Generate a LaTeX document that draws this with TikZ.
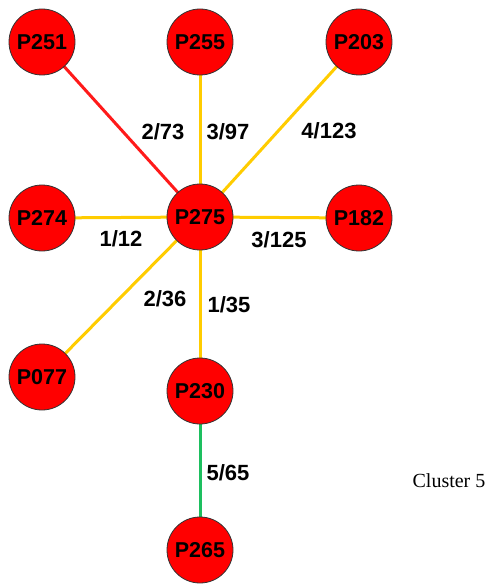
\documentclass[tikz,border=0pt]{standalone}
\usepackage{fontspec}
\setmainfont{Liberation Sans}
\newfontfamily\serifface{Liberation Serif}
\definecolor{nodered}{HTML}{FF0000}
\definecolor{edgered}{HTML}{FF1A1A}
\definecolor{edgeyellow}{HTML}{FFCC00}
\definecolor{edgegreen}{HTML}{1DBF5F}
\begin{document}
\begin{tikzpicture}[x=1pt,y=-1pt,
  pnode/.style={circle,draw=black!80,line width=0.8pt,fill=nodered,minimum size=66pt,inner sep=0pt,
    font=\fontsize{21.5}{21.5}\selectfont\bfseries},
  link/.style={line width=3pt},
  wlabel/.style={font=\fontsize{22}{22}\selectfont\bfseries,inner sep=0pt}]
\useasboundingbox (0,0) rectangle (489,585);
% edges first, so the circles sit on top
\coordinate (c251) at (42,42);
\coordinate (c255) at (200,42);
\coordinate (c203) at (359,42);
\coordinate (c274) at (42,218);
\coordinate (c275) at (200,217);
\coordinate (c182) at (359,218);
\coordinate (c077) at (42,377);
\coordinate (c230) at (200,391);
\coordinate (c265) at (200,550);
\draw[link,edgered] (c251) -- (c275);
\draw[link,edgeyellow] (c255) -- (c275);
\draw[link,edgeyellow] (c203) -- (c275);
\draw[link,edgeyellow] (c274) -- (c275);
\draw[link,edgeyellow] (c275) -- (c182);
\draw[link,edgeyellow] (c275) -- (c077);
\draw[link,edgeyellow] (c275) -- (c230);
\draw[link,edgegreen] (c230) -- (c265);
% nodes
\node[pnode] (P251) at (c251) {P251};
\node[pnode] (P255) at (c255) {P255};
\node[pnode] (P203) at (c203) {P203};
\node[pnode] (P274) at (c274) {P274};
\node[pnode] (P275) at (c275) {P275};
\node[pnode] (P182) at (c182) {P182};
\node[pnode] (P077) at (c077) {P077};
\node[pnode] (P230) at (c230) {P230};
\node[pnode] (P265) at (c265) {P265};
% edge weights
\node[wlabel] (l1) at (163,132) {2/73};
\node[wlabel] (l2) at (228,132) {3/97};
\node[wlabel] (l3) at (329,131) {4/123};
\node[wlabel] (l4) at (121,239) {1/12};
\node[wlabel] (l5) at (279,240) {3/125};
\node[wlabel] (l6) at (165,299) {2/36};
\node[wlabel] (l7) at (229,305) {1/35};
\node[wlabel] (l8) at (228,473) {5/65};
% caption
\node[font=\serifface\fontsize{20}{20}\selectfont,inner sep=0pt] (cap) at (449,481) {Cluster 5};
\end{tikzpicture}
\end{document}
